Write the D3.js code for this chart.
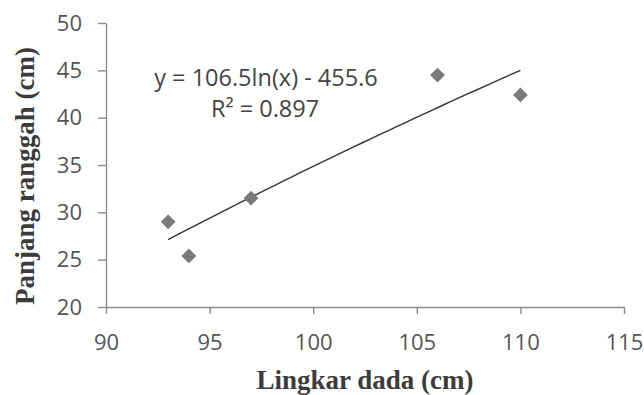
<!DOCTYPE html>
<html>
<head>
<meta charset="utf-8">
<script src="https://cdn.jsdelivr.net/npm/d3@7"></script>
<style>
  body { margin: 0; background: #fff; }
  svg { display: block; }
  .tick text { font-family: "Open Sans", sans-serif; font-size: 22px; fill: #555; }
  .axis-title { font-family: "Liberation Serif", "Times New Roman", serif; font-weight: bold; font-size: 27px; fill: #3c3c3c; }
  .eq { font-family: "Open Sans", sans-serif; font-size: 23.5px; fill: #444; }
</style>
</head>
<body>
<div id="chart"></div>
<script>
var svgWidth = 644;
var svgHeight = 395;

// data
var lingkarDada = [93, 94, 97, 106, 110];
var panjangRanggah = [29.0, 25.4, 31.5, 44.5, 42.4];

var xTicks = [90, 95, 100, 105, 110, 115];
var yTicks = [20, 25, 30, 35, 40, 45, 50];

// logarithmic trend line as printed on the chart
var trendA = 106.5;
var trendB = -455.6;
var trendLabel = "y = 106.5ln(x) - 455.6";
var r2Label = "R\u00b2 = 0.897";

var svg = d3.select("#chart")
  .append("svg")
  .attr("width", svgWidth)
  .attr("height", svgHeight);

var xScale = d3.scaleLinear()
  .domain([90, 115])
  .range([106, 624]);

var yScale = d3.scaleLinear()
  .domain([20, 50])
  .range([307, 23]);

var bottomAxis = d3.axisBottom(xScale)
  .tickValues(xTicks)
  .tickSizeInner(7)
  .tickSizeOuter(0)
  .tickPadding(20);

var leftAxis = d3.axisLeft(yScale)
  .tickValues(yTicks)
  .tickSizeInner(8)
  .tickSizeOuter(0)
  .tickPadding(16);

var xAxis = svg.append("g")
  .attr("transform", "translate(0," + yScale(20) + ")")
  .call(bottomAxis);

var yAxis = svg.append("g")
  .attr("transform", "translate(" + xScale(90) + ",0)")
  .call(leftAxis);

[xAxis, yAxis].forEach(function (ax) {
  ax.select(".domain").attr("stroke", "#8a8a8a").attr("stroke-width", 1.4);
  ax.selectAll(".tick line").attr("stroke", "#8a8a8a").attr("stroke-width", 1.4);
});

// trend line
var xMin = d3.min(lingkarDada);
var xMax = d3.max(lingkarDada);
var trendPts = d3.range(0, 41).map(function (i) {
  var x = xMin + (xMax - xMin) * i / 40;
  return [x, trendA * Math.log(x) + trendB];
});

var line = d3.line()
  .x(d => xScale(d[0]))
  .y(d => yScale(d[1]));

svg.append("path")
  .datum(trendPts)
  .attr("d", line)
  .attr("fill", "none")
  .attr("stroke", "#333")
  .attr("stroke-width", 1.4);

// diamond markers
var points = lingkarDada.map((x, i) => ({ x: x, y: panjangRanggah[i] }));

svg.selectAll(".pt")
  .data(points)
  .enter()
  .append("path")
  .attr("class", "pt")
  .attr("d", d3.symbol(d3.symbolSquare, 110))
  .attr("transform", d => "translate(" + xScale(d.x) + "," + yScale(d.y) + ") rotate(45)")
  .attr("fill", "#7a7a7a");

// equation labels
svg.append("text")
  .attr("class", "eq")
  .attr("x", 266)
  .attr("y", 86)
  .attr("text-anchor", "middle")
  .text(trendLabel);

svg.append("text")
  .attr("class", "eq")
  .attr("x", 265)
  .attr("y", 117)
  .attr("text-anchor", "middle")
  .text(r2Label);

// axis titles
svg.append("text")
  .attr("class", "axis-title")
  .attr("x", 365)
  .attr("y", 389)
  .attr("text-anchor", "middle")
  .text("Lingkar dada (cm)");

svg.append("text")
  .attr("class", "axis-title")
  .attr("transform", "rotate(-90)")
  .attr("x", -176)
  .attr("y", 34)
  .attr("text-anchor", "middle")
  .text("Panjang ranggah (cm)");
</script>
</body>
</html>
